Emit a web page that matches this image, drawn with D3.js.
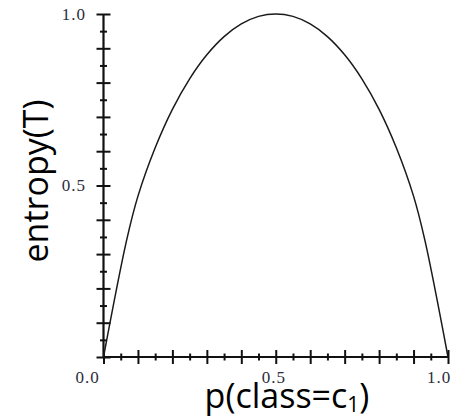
<!DOCTYPE html>
<html>
<head>
<meta charset="utf-8">
<script src="https://cdn.jsdelivr.net/npm/d3@7"></script>
<style>
  html, body { margin: 0; padding: 0; background: #fff; }
  svg { display: block; }
</style>
</head>
<body>
<svg id="chart" width="459" height="417"></svg>
<script>
// ---- data ----
const pValues = [0, 0.067, 0.1, 0.15, 0.2, 0.25, 0.3, 0.35, 0.4, 0.45, 0.5, 0.55, 0.6, 0.65, 0.7, 0.75, 0.8, 0.85, 0.9, 0.933, 1];
const entropyValues = [0, 0.34, 0.469, 0.61, 0.722, 0.811, 0.881, 0.934, 0.971, 0.993, 1.0, 0.993, 0.971, 0.934, 0.881, 0.811, 0.722, 0.61, 0.469, 0.34, 0];
const majorTicks = [0, 0.1, 0.2, 0.3, 0.4, 0.5, 0.6, 0.7, 0.8, 0.9, 1.0];
const minorTicks = [0.05, 0.15, 0.25, 0.35, 0.45, 0.55, 0.65, 0.75, 0.85, 0.95];
const xTickLabels = [0, 0.5, 1.0];
const yTickLabels = [0.5, 1.0];
const xTitle = "p(class=c";
const xTitleSub = "1";
const yTitle = "entropy(T)";

const svg = d3.select("#chart");
const x = d3.scaleLinear().domain([0, 1]).range([103.5, 448]);
const y = d3.scaleLinear().domain([0, 1]).range([357, 14]);

const ink = "#111";
const labelColor = "#2c2c3c";

function crossTicks(g, len, horizontal) {
  g.select(".domain").remove();
  g.selectAll(".tick line")
    .attr("stroke", ink).attr("stroke-width", 2)
    .attr(horizontal ? "y1" : "x1", -len).attr(horizontal ? "y2" : "x2", len);
  g.selectAll(".tick text").remove();
}
svg.append("g").attr("transform", `translate(${x(0)},0)`)
  .call(d3.axisLeft(y).tickValues(majorTicks).tickSize(0))
  .call(g => crossTicks(g, 7, false));
svg.append("g").attr("transform", `translate(${x(0)},0)`)
  .call(d3.axisLeft(y).tickValues(minorTicks).tickSize(0))
  .call(g => crossTicks(g, 3.5, false));
svg.append("g").attr("transform", `translate(0,${y(0)})`)
  .call(d3.axisBottom(x).tickValues(majorTicks).tickSize(0))
  .call(g => crossTicks(g, 7, true));
svg.append("g").attr("transform", `translate(0,${y(0)})`)
  .call(d3.axisBottom(x).tickValues(minorTicks).tickSize(0))
  .call(g => crossTicks(g, 3.5, true));

// axis lines
svg.append("line").attr("x1", x(0)).attr("x2", x(0)).attr("y1", y(1)).attr("y2", y(0))
  .attr("stroke", ink).attr("stroke-width", 2.2);
svg.append("line").attr("x1", x(0)).attr("x2", x(1)).attr("y1", y(0)).attr("y2", y(0))
  .attr("stroke", ink).attr("stroke-width", 2.2);

// curve
const pts = pValues.map((p, i) => [p, entropyValues[i]]);
svg.append("path")
  .datum(pts)
  .attr("fill", "none")
  .attr("stroke", "#1a1a1a")
  .attr("stroke-width", 1.5)
  .attr("d", d3.line().x(d => x(d[0])).y(d => y(d[1])).curve(d3.curveCatmullRom.alpha(0.5)));

// tick labels
const fmt = d3.format(".1f");
const xLabelShift = v => v === 0 ? -16 : (v === 1 ? -9 : -2);
svg.append("g").selectAll("text").data(xTickLabels).join("text")
  .attr("x", d => x(d) + xLabelShift(d))
  .attr("y", 383)
  .attr("text-anchor", "middle")
  .attr("font-family", "'Liberation Serif', 'Times New Roman', serif")
  .attr("font-size", 17)
  .attr("letter-spacing", 1)
  .attr("fill", labelColor)
  .text(d => fmt(d));
svg.append("g").selectAll("text").data(yTickLabels).join("text")
  .attr("x", 86)
  .attr("y", d => y(d) + 5.5)
  .attr("text-anchor", "end")
  .attr("font-family", "'Liberation Serif', 'Times New Roman', serif")
  .attr("font-size", 17)
  .attr("letter-spacing", 1)
  .attr("fill", labelColor)
  .text(d => fmt(d));

// axis titles
const xt = svg.append("text")
  .attr("x", 287).attr("y", 408)
  .attr("text-anchor", "middle")
  .attr("font-family", "'Open Sans', 'Noto Sans', sans-serif")
  .attr("font-size", 34)
  .attr("fill", "#000");
xt.append("tspan").text(xTitle);
xt.append("tspan").attr("font-size", 21).attr("dy", 3.5).text(xTitleSub);
xt.append("tspan").attr("dy", -3.5).text(")");

svg.append("text")
  .attr("transform", "translate(48,181) rotate(-90)")
  .attr("text-anchor", "middle")
  .attr("font-family", "'Open Sans', 'Noto Sans', sans-serif")
  .attr("font-size", 34)
  .attr("fill", "#000")
  .text(yTitle);
</script>
</body>
</html>
